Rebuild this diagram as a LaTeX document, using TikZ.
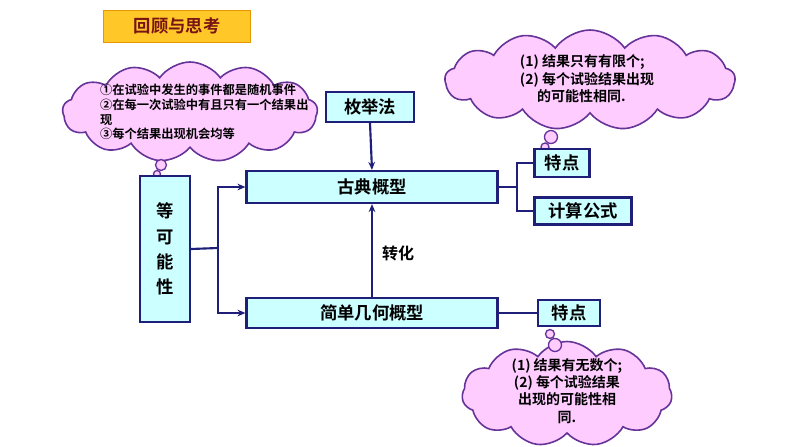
\documentclass[tikz,border=0pt]{standalone}
\usepackage{fontspec}
\newfontfamily\cjk{Noto Sans CJK SC Bold}
\usetikzlibrary{shapes.symbols,arrows.meta}
\definecolor{navy}{HTML}{1F1F7A}
\definecolor{cyanf}{HTML}{CCFFFF}
\definecolor{pinkf}{HTML}{FFCCFF}
\definecolor{cloudb}{HTML}{663399}
\tikzset{
 box/.style={draw=navy,line width=1.6pt,fill=cyanf,font=\cjk\fontsize{13}{15}\selectfont,inner sep=0pt},
 cl/.style={cloud,cloud puffs=13,cloud puff arc=110,draw=cloudb,fill=pinkf,line width=1.2pt,aspect=2.5,inner sep=0pt},
 bub/.style={circle,draw=cloudb,fill=pinkf,line width=1pt,inner sep=0pt},
 ln/.style={draw=navy,line width=1.6pt},
 ar/.style={ln,-{Stealth[length=6pt,width=5pt]}}
}
\begin{document}
\begin{tikzpicture}[x=0.75pt,y=-0.75pt]
\useasboundingbox (0,0) rectangle (794,447);
\node[fill={rgb,255:red,255;green,200;blue,40},draw={rgb,255:red,230;green,150;blue,0},minimum width=147*0.75pt,minimum height=32*0.75pt,font=\cjk\fontsize{13}{15}\selectfont,text={rgb,255:red,120;green,20;blue,20}] (title) at (177,26) {回顾与思考};
% clouds
\node[cl,minimum width=255*0.75pt,minimum height=100*0.75pt] (c1) at (190,112) {};
\node[font=\cjk\fontsize{9.2}{11}\selectfont,align=left,text width=165pt] (t1) at (210,112) {①在试验中发生的事件都是随机事件\\②在每一次试验中有且只有一个结果出\\现\\③每个结果出现机会均等};
\node[bub,minimum size=11*0.75pt] (b1) at (161,165) {};
\node[bub,minimum size=7*0.75pt] (b2) at (157,174) {};
\node[cl,minimum width=290*0.75pt,minimum height=100*0.75pt] (c2) at (590,80) {};
\node[font=\cjk\fontsize{10.5}{13}\selectfont,align=left] (t2) at (587,79) {(1) 结果只有有限个;\\(2) 每个试验结果出现\\\quad\ 的可能性相同.};
\node[bub,minimum size=13*0.75pt] (b3) at (551,137) {};
\node[bub,minimum size=8*0.75pt] (b4) at (545,147) {};
\node[cl,minimum width=210*0.75pt,minimum height=105*0.75pt,cloud puffs=11] (c3) at (567,394) {};
\node[font=\cjk\fontsize{10.5}{13}\selectfont,align=center] (t3) at (567,391) {(1) 结果有无数个;\\(2) 每个试验结果\\出现的可能性相\\同.};
\node[bub,minimum size=9*0.75pt] (b5) at (550,334) {};
\node[bub,minimum size=13*0.75pt] (b6) at (555,345) {};
% boxes
\node[box,minimum width=50*0.75pt,minimum height=146*0.75pt,align=center,font=\cjk\fontsize{13}{19}\selectfont] (deng) at (165,249) {等\\可\\能\\性};
\node[box,minimum width=88*0.75pt,minimum height=30*0.75pt] (mj) at (370,107) {枚举法};
\node[box,minimum width=251*0.75pt,minimum height=32*0.75pt] (gd) at (372,187) {古典概型};
\node[box,minimum width=251*0.75pt,minimum height=30*0.75pt] (jd) at (372,313) {简单几何概型};
\node[box,minimum width=55*0.75pt,minimum height=28*0.75pt] (td1) at (562,163) {特点};
\node[box,minimum width=97*0.75pt,minimum height=27*0.75pt] (js) at (583,211) {计算公式};
\node[box,minimum width=62*0.75pt,minimum height=26*0.75pt] (td2) at (569,313) {特点};
\node[font=\cjk\fontsize{12}{14}\selectfont] (zh) at (398,253) {转化};
% connectors
\draw[ar] (mj.south) -- (gd.north);
\draw[ar] (jd.north) -- (gd.south);
\coordinate (bx) at (218,248);
\draw[ln] (deng.east) -- (bx);
\draw[ar] (218,187) -- (gd.west);
\draw[ar] (218,313) -- (jd.west);
\draw[ln] (218,186.2) -- (218,313.8);
\coordinate (rx) at (517,187);
\draw[ln] (gd.east) -- (rx);
\draw[ln] (517,163) -- (td1.west);
\draw[ln] (517,211) -- (js.west);
\draw[ln] (517,162.2) -- (517,211.8);
\draw[ln] (jd.east) -- (td2.west);
\end{tikzpicture}
\end{document}
